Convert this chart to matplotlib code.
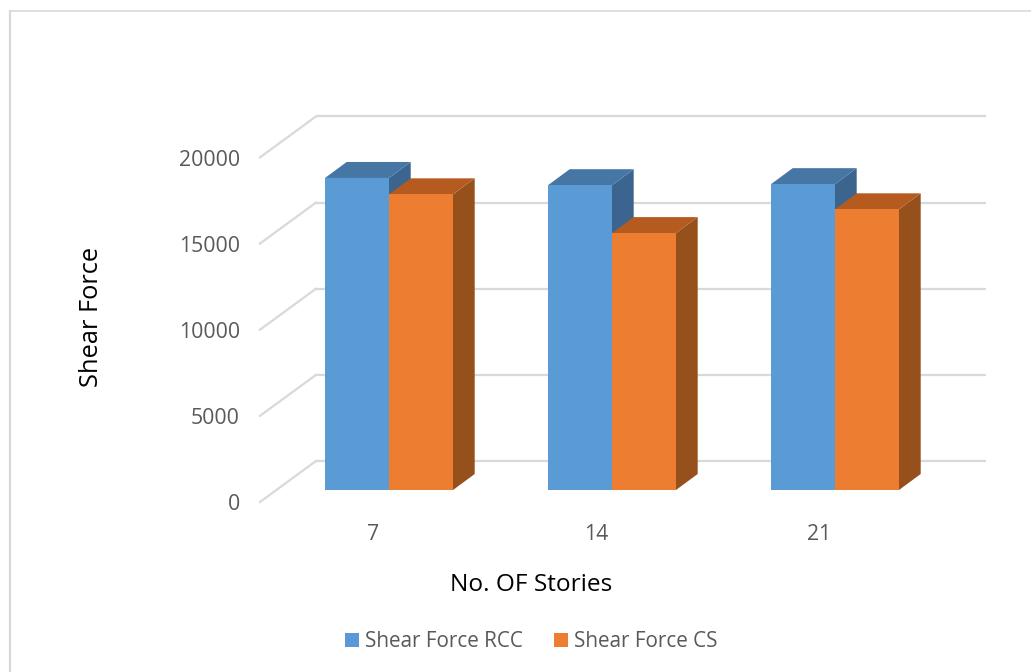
import matplotlib
matplotlib.use("Agg")
import matplotlib.pyplot as plt
from matplotlib.lines import Line2D
from matplotlib.patches import Patch, Polygon
from matplotlib.transforms import ScaledTranslation

plt.rcParams["font.family"] = ["Open Sans", "DejaVu Sans"]

# Chart data
stories = ["7", "14", "21"]
shear_rcc = [18110, 17690, 17750]
shear_cs = [17160, 14910, 16290]
value_ticks = [0, 5000, 10000, 15000, 20000]
series_names = ["Shear Force RCC", "Shear Force CS"]

# Palette: (front, top, side) for each series
blue = ("#5B9BD5", "#4676A4", "#3B658E")
orange = ("#ED7D31", "#B55B20", "#96501B")
grid_color = "#D9D9D9"
label_color = "#595959"

W, H, DPI = 1031, 672, 100
fig = plt.figure(figsize=(W / DPI, H / DPI), dpi=DPI)
ax = fig.add_axes([0, 0, 1, 1])
ax.axis("off")

# Scales: one category step is 223 px, 1000 force units are 17.23 px
px_per_cat = 223.0
px_per_val = 17.23 / 1000
ax.set_xlim(-389 / px_per_cat, (W - 389) / px_per_cat)
ax.set_ylim(-(H - 490) / px_per_val, 490 / px_per_val)


def shifted(dx_px, dy_px):
    """Data transform displaced by a pixel offset, used for the oblique depth."""
    return ax.transData + ScaledTranslation(dx_px / DPI, dy_px / DPI, fig.dpi_scale_trans)


# Floor and wall planes relative to the plane of the bar fronts
front_plane = shifted(-16.4, -12)
back_plane = shifted(39.6, 29)
x_left, x_right = -0.505, 2.5

# Gridlines: along the back wall and down the left wall
for v in value_ticks:
    ax.plot([x_left, x_right], [v, v], color=grid_color, lw=1.6,
            transform=back_plane, zorder=1, solid_capstyle="butt")
    x0, y0 = front_plane.transform((x_left, v))
    x1, y1 = back_plane.transform((x_left, v))
    ax.add_line(Line2D([x0, x1], [y0, y1], color=grid_color, lw=1.6,
                       transform=None, zorder=1))

# Oblique box bars
bar_w = 64 / px_per_cat
depth_x = 21.7 / px_per_cat
depth_y = 16 / px_per_val


def draw_box(left, value, shades, z):
    right = left + bar_w
    ax.add_patch(Polygon([(right, 0), (right + depth_x, depth_y),
                          (right + depth_x, value + depth_y), (right, value)],
                         closed=True, fc=shades[2], ec="none", zorder=z))
    ax.add_patch(Polygon([(left, value), (right, value),
                          (right + depth_x, value + depth_y),
                          (left + depth_x, value + depth_y)],
                         closed=True, fc=shades[1], ec="none", zorder=z))
    ax.add_patch(Polygon([(left, 0), (right, 0), (right, value), (left, value)],
                         closed=True, fc=shades[0], ec="none", zorder=z + 0.1))


for i in range(len(stories)):
    draw_box(i - bar_w, shear_rcc[i], blue, 2)
    draw_box(i, shear_cs[i], orange, 3)

# Tick labels
for v in value_ticks:
    ax.text(x_left, v, str(v), transform=shifted(-36.6, -15), ha="right",
            va="center", color=label_color, fontsize=15.3)
for i, name in enumerate(stories):
    ax.text(i, 0, name, transform=shifted(-16, -44), ha="center", va="center",
            color=label_color, fontsize=15.3)

# Axis titles
fig.text(531 / W, 1 - 585 / H, "No. OF Stories", ha="center", va="center",
         color="black", fontsize=17.6)
fig.text(92 / W, 1 - 317 / H, "Shear Force", ha="center", va="center",
         rotation=90, color="black", fontsize=18.4)

# Legend
handles = [Patch(fc=blue[0]), Patch(fc=orange[0])]
fig.legend(handles, series_names, loc="center", ncol=2,
           bbox_to_anchor=(531 / W, 1 - 641.5 / H), frameon=False,
           fontsize=14.9, labelcolor=label_color, handlelength=0.68,
           handleheight=0.68, handletextpad=0.3, columnspacing=1.5)

# Chart-area border along the top and left
fig.add_artist(Line2D([9.5 / W, 1], [1 - 10.5 / H, 1 - 10.5 / H], color=grid_color, lw=1.2))
fig.add_artist(Line2D([9.5 / W, 9.5 / W], [0, 1 - 10.5 / H], color=grid_color, lw=1.6))

fig.savefig("out.png", dpi=DPI, facecolor="white")
